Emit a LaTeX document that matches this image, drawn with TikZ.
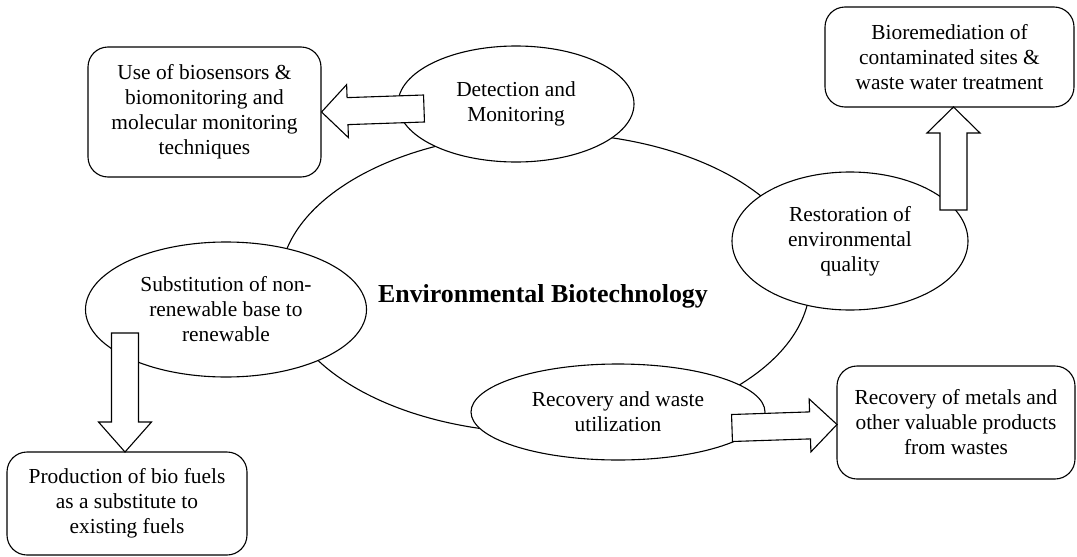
\documentclass[tikz,border=0pt]{standalone}
\usepackage{fontspec}
\setmainfont{Liberation Serif}
\usetikzlibrary{shapes.geometric,calc}
\tikzset{
  txt/.style={font={\fontsize{21.4}{25}\selectfont}, align=center, inner sep=0pt},
  rbox/.style={txt, draw, line width=1.1pt, rounded corners=20pt, fill=white},
  ell/.style={txt, draw, line width=1.1pt, ellipse, fill=white},
  ring/.style={line width=1.1pt},
  barrow/.style={draw, line width=1.1pt, fill=white, line join=miter},
}
\newcommand\bkarrow[3]{%
  \coordinate (bh) at ($(#2)!#3!(#1)$);
  \draw[barrow] ($(#1)!13.5pt!90:(#2)$) -- ($(bh)!13.5pt!-90:(#1)$) -- ($(bh)!26.5pt!-90:(#1)$) -- (#2) -- ($(bh)!26.5pt!90:(#1)$) -- ($(bh)!13.5pt!90:(#1)$) -- ($(#1)!13.5pt!-90:(#2)$) -- cycle;}
\begin{document}
\begin{tikzpicture}[x=1pt,y=-1pt]
\useasboundingbox (0,0) rectangle (1077,557);
% central ring
\coordinate (c) at (545,283);
\draw[ring] (c) ellipse [x radius=265, y radius=150];
% ellipses
\node[ell, minimum width=236pt, minimum height=116pt] (det) at (516,104) {Detection and\\Monitoring};
\node[ell, minimum width=236pt, minimum height=138pt] (res) at (850,241) {Restoration of\\environmental\\quality};
\node[ell, minimum width=281pt, minimum height=135pt] (sub) at (226,309.5) {Substitution of non-\\renewable base to\\renewable};
\node[ell, minimum width=294pt, minimum height=96pt] (rec) at (618,412) {Recovery and waste\\utilization};
% title
\node[font={\fontsize{25.9}{30}\selectfont\bfseries}, anchor=base, inner sep=0pt] (title) at (543,302) {Environmental Biotechnology};
% boxes
\node[rbox, minimum width=233pt, minimum height=130pt] (box1) at (204.5,112) {Use of biosensors \&\\biomonitoring and\\molecular monitoring\\techniques};
\node[rbox, minimum width=249pt, minimum height=100pt] (box2) at (949.5,57) {Bioremediation of\\contaminated sites \&\\waste water treatment};
\node[rbox, minimum width=240pt, minimum height=103pt] (box3) at (127,503.5) {Production of bio fuels\\as a substitute to\\existing fuels};
\node[rbox, minimum width=238pt, minimum height=113pt] (box4) at (956,422.5) {Recovery of metals and\\other valuable products\\from wastes};
% block arrows
\coordinate (a1s) at (424,108.5);
\coordinate (a2s) at (953.5,210);
\coordinate (a2t) at (953.5,107);
\coordinate (a3s) at (125,333);
\coordinate (a3t) at (125,452);
\coordinate (a4s) at (732,428);
\coordinate (a4t) at (837,424.5);
\bkarrow{a1s}{box1.east}{26pt}
\bkarrow{a2s}{a2t}{26pt}
\bkarrow{a3s}{a3t}{30pt}
\bkarrow{a4s}{a4t}{27pt}
\end{tikzpicture}
\end{document}
